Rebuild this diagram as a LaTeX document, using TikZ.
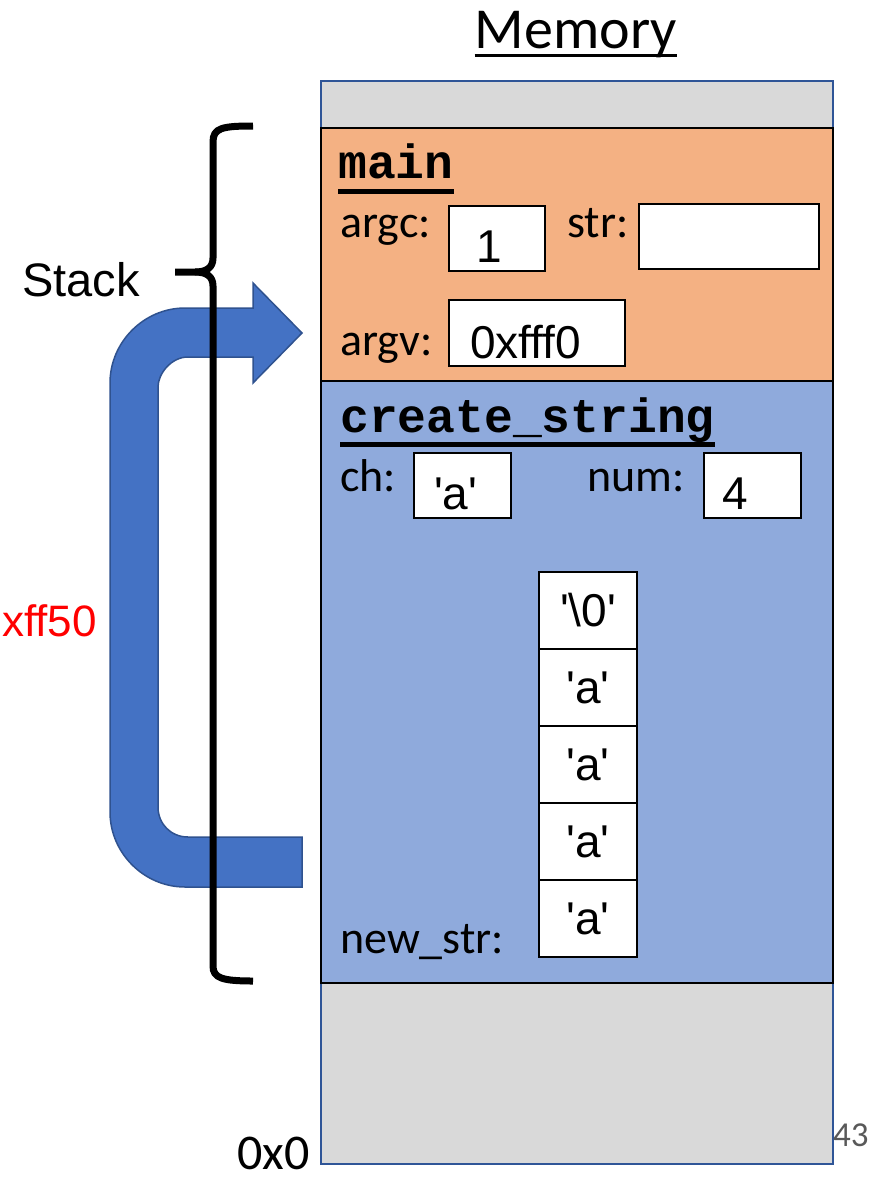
\documentclass[tikz,border=0pt]{standalone}
\usepackage{fontspec}
\setmainfont{Carlito}
\newfontfamily\arialf{Liberation Sans}
\newfontfamily\courf{Liberation Mono}
\definecolor{gris}{HTML}{D9D9D9}
\definecolor{naranja}{HTML}{F4B183}
\definecolor{azulclaro}{HTML}{8FAADC}
\definecolor{azulflecha}{HTML}{4472C4}
\definecolor{azulborde}{HTML}{2F528F}
\definecolor{azulmem}{HTML}{2F5597}
\definecolor{grisnum}{HTML}{595959}
\newcommand{\cq}{\textquotesingle}
\tikzset{
  marco/.style={draw=black, line width=2pt, anchor=north west, inner sep=0pt},
  caja/.style={draw=black, fill=white, line width=1.6pt, anchor=north west, inner sep=0pt},
  etiq/.style={font=\fontsize{46}{50}\selectfont, inner sep=0pt, anchor=base west},
  valor/.style={font=\arialf\fontsize{46}{50}\selectfont, inner sep=0pt, anchor=base west},
  funcion/.style={font=\courf\bfseries\fontsize{48}{50}\selectfont, inner sep=0pt, anchor=base west},
}
\begin{document}
\begin{tikzpicture}[x=1pt,y=-1pt]
	\useasboundingbox (0,0) rectangle (876,1181);
	% Memoria
	\node[font=\fontsize{58}{60}\selectfont, inner sep=0pt, anchor=base] (titulo) at (576,48) {Memory};
	\draw[line width=3pt] ([yshift=-7pt]titulo.base west) -- ([yshift=-7pt]titulo.base east);
	\node[draw=azulmem, fill=gris, line width=2pt, minimum width=512pt, minimum height=1083pt, anchor=north west, inner sep=0pt] (mem) at (320,80) {};
	
	% Marco de main
	\node[marco, fill=naranja, minimum width=512pt, minimum height=253pt] (mainfr) at (320,127) {};
	\node[funcion] (fmain) at (338,178) {main};
	\draw[line width=5pt] ([yshift=-13pt]fmain.base west) -- ([yshift=-13pt]fmain.base east);
	\node[etiq] (argc) at (340,237) {argc:};
	\node[caja, minimum width=96pt, minimum height=65pt] (argcbox) at (448,205) {};
	\node[valor] (argcval) at (476,262) {1};
	\node[etiq] (str) at (567,237) {str:};
	\node[caja, minimum width=180pt, minimum height=65pt] (strbox) at (638,203) {};
	\node[etiq] (argv) at (340,355) {argv:};
	\node[caja, minimum width=176pt, minimum height=66pt] (argvbox) at (448,299) {};
	\node[valor] (argvval) at (470,358) {0xfff0};
	
	% Marco de create_string
	\node[marco, fill=azulclaro, minimum width=512pt, minimum height=602pt] (createfr) at (320,380) {};
	\node[funcion] (fcreate) at (340,432) {create\_string};
	\draw[line width=5pt] ([yshift=-12pt]fcreate.base west) -- ([yshift=-12pt]fcreate.base east);
	\node[etiq] (ch) at (340,491) {ch:};
	\node[caja, minimum width=97pt, minimum height=65pt] (chbox) at (413,452) {};
	\node[valor] (chval) at (434,509) {\cq a\cq};
	\node[etiq] (num) at (587,491) {num:};
	\node[caja, minimum width=97pt, minimum height=65pt] (numbox) at (703,452) {};
	\node[valor] (numval) at (722,509) {4};
	\foreach \c [count=\i from 0] in {\cq\textbackslash0\cq, \cq a\cq, \cq a\cq, \cq a\cq, \cq a\cq}
		\node[caja, anchor=center, minimum width=98pt, minimum height=77pt, font=\arialf\fontsize{46}{50}\selectfont] (celda\i) at (588,{610.5+77*\i}) {\c};
	\node[etiq] (newstr) at (340,953) {new\_str:};
	
	% Flecha azul
	\draw[fill=azulflecha, draw=azulborde, line width=1.5pt] (253,357) -- (188,357) .. controls (171,357) and (158,374) .. (158,387) -- (158,807) .. controls (158,824) and (171,837) .. (188,837) -- (302,837) -- (302,887) -- (185,887) .. controls (144,887) and (110,853) .. (110,812) -- (110,383) .. controls (110,342) and (144,308) .. (185,308) -- (253,308) -- (253,283) -- (302,333) -- (253,383) -- cycle;
	
	% Llave del stack
	\draw[line width=7pt] (253,126) .. controls (222,126) and (213,128) .. (213,142) -- (213,258) .. controls (213,268) and (206,272) .. (195,272) -- (175,272);
	\draw[line width=7pt] (195,272) .. controls (206,272) and (213,276) .. (213,286) -- (213,966) .. controls (213,978) and (222,981) .. (253,981);
	\node[font=\arialf\fontsize{47}{50}\selectfont, inner sep=0pt, anchor=base west] (stack) at (22,296) {Stack};
	\node[valor, text=red, font=\arialf\fontsize{44}{48}\selectfont] (dir) at (2,636) {xff50};
	
	% Direcciones
	\node[font=\fontsize{50}{52}\selectfont, inner sep=0pt, anchor=base east] (cero) at (310,1169) {0x0};
	\node[font=\fontsize{35}{38}\selectfont, text=grisnum, inner sep=0pt, anchor=base west] (pag) at (833,1146) {43};
\end{tikzpicture}
\end{document}
